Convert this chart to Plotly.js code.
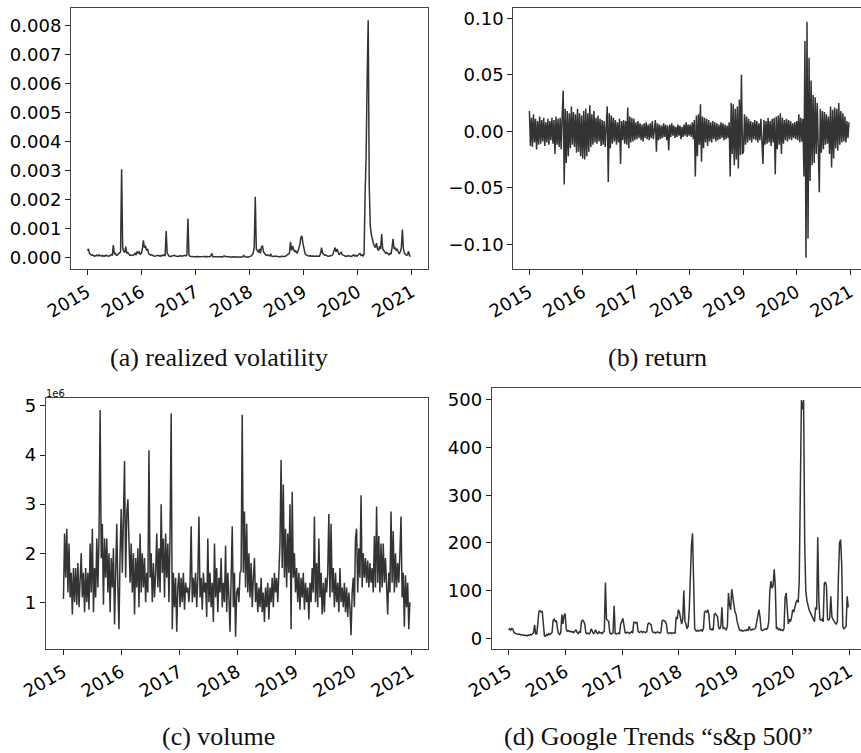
<!DOCTYPE html>
<html>
<head>
<meta charset="utf-8">
<script src="https://cdn.plot.ly/plotly-3.0.1.min.js"></script>
<style>
  html, body { margin: 0; padding: 0; background: #ffffff; }
  #chart { width: 861px; height: 753px; }
</style>
</head>
<body>
<div id="chart"></div>
<script>
// Weekly observations, 2015-01-02 to 2020-12-25 (313 weeks).
const START_DATE = Date.UTC(2015, 0, 2);
const N_WEEKS = 313;
const weekDates = Array.from({ length: N_WEEKS }, (_, i) =>
  new Date(START_DATE + i * 7 * 864e5).toISOString().slice(0, 10));

// (a) realized volatility, in units of 1e-4
const rv2015 = [2.5,3.0,1.5,1.2,0.8,1.0,0.6,0.5,0.7,0.9,0.6,1.0,0.7,
                0.6,0.8,0.5,0.7,0.5,0.9,0.6,0.5,0.6,0.8,1.0,0.9,4.4,
                1.2,1.5,0.8,0.9,1.3,1.8,2.0,30.5,3.5,2.2,1.8,3.8,1.5,
                1.8,1.0,0.8,0.9,0.7,0.8,1.1,1.5,0.9,2.2,1.6,2.0,1.2];
const rv2016 = [1.5,3.0,6.0,3.5,4.2,2.5,3.0,1.5,1.2,0.9,1.0,0.7,0.6,
                0.5,0.6,0.5,0.8,0.6,0.7,0.5,0.9,0.7,1.0,0.8,9.2,1.5,
                0.8,0.5,0.4,0.5,0.4,0.6,0.8,0.6,0.5,0.4,0.6,0.5,0.7,
                0.5,0.6,0.7,0.8,0.6,1.0,13.5,0.8,0.5,0.4,0.3,0.4,0.3];
const rv2017 = [0.3,0.4,0.3,0.4,0.3,0.3,0.2,0.3,0.4,0.5,0.3,0.4,0.3,
                0.3,0.4,0.5,1.5,0.4,0.3,0.3,0.4,0.3,0.5,0.4,0.3,0.3,
                0.2,0.3,0.6,0.4,0.3,0.2,0.3,0.3,0.2,0.2,0.3,0.2,0.2,
                0.2,0.3,0.2,0.2,0.3,0.2,0.2,0.4,0.8,0.3,0.2,0.3,0.2,0.3];
const rv2018 = [0.4,0.6,1.0,1.5,4.0,21.0,3.0,2.5,1.8,3.0,1.5,3.8,4.0,
                2.0,1.2,1.0,0.8,1.0,0.7,0.6,1.3,0.5,0.4,0.5,0.4,0.6,
                0.4,0.3,0.4,0.3,0.5,0.4,0.3,0.4,0.5,0.8,1.2,1.5,1.5,
                5.5,2.5,4.0,3.0,2.0,2.5,1.5,2.0,3.0,4.5,7.0,7.5,5.0];
const rv2019 = [3.0,1.5,1.0,0.8,0.6,0.5,0.7,0.5,0.6,0.5,0.4,0.5,0.6,
                0.5,0.4,0.5,1.5,3.5,1.5,1.0,0.8,1.0,0.6,0.5,0.5,0.6,
                0.5,0.8,1.2,2.5,3.5,2.0,3.0,2.0,1.0,1.5,2.0,1.0,0.8,
                0.6,0.5,0.6,0.5,0.7,0.5,0.4,0.5,0.8,1.0,0.6,0.8,0.5];
const rv2020 = [0.8,1.0,1.5,0.8,1.0,0.6,1.2,22.0,35.0,62.0,82.0,25.0,11.0,
                8.0,6.0,5.0,4.0,3.5,5.0,3.0,2.5,4.0,3.0,8.2,3.0,2.5,
                2.0,1.5,1.8,1.2,1.0,1.5,1.2,3.5,6.5,3.0,3.5,2.5,3.0,
                2.0,1.5,2.0,3.5,9.7,3.0,1.5,1.0,0.8,1.0,2.2,0.6,0.5];
const RV_UNIT = 1e-4;

// (b) return
const ret2015 = [0.018,-0.013,0.012,-0.014,0.015,-0.010,0.011,-0.016,0.009,-0.012,0.013,-0.011,0.010,
                 -0.009,0.012,-0.013,0.008,-0.010,0.011,-0.012,0.009,-0.008,0.012,-0.011,0.010,-0.020,
                 0.013,-0.012,0.011,-0.014,0.012,-0.016,0.014,0.036,-0.047,0.020,-0.028,0.018,-0.022,
                 0.016,-0.015,0.022,-0.012,0.017,-0.014,0.015,-0.019,0.020,-0.018,0.016,-0.022,0.014];
const ret2016 = [-0.024,0.018,-0.025,0.020,-0.022,0.016,-0.018,0.023,-0.014,0.015,-0.012,0.018,-0.010,
                 0.012,-0.011,0.014,-0.009,0.011,-0.013,0.010,-0.012,0.009,-0.014,0.013,0.022,-0.045,
                 0.016,-0.015,0.014,-0.011,0.012,-0.009,0.010,-0.012,0.008,-0.010,0.011,-0.029,0.009,
                 -0.008,0.010,-0.011,0.009,-0.012,0.021,-0.015,0.013,-0.010,0.012,-0.009,0.011,-0.008];
const ret2017 = [0.008,-0.007,0.009,-0.006,0.007,-0.008,0.006,-0.009,0.007,-0.006,0.008,-0.007,0.006,
                 -0.008,0.007,-0.006,0.009,-0.007,0.006,0.010,-0.018,0.007,-0.008,0.006,-0.007,0.005,
                 -0.006,0.007,-0.005,0.006,-0.008,0.005,-0.017,0.006,-0.005,0.007,-0.004,0.005,-0.006,
                 0.004,-0.005,0.006,-0.004,0.005,-0.007,0.004,-0.005,0.006,-0.004,0.008,-0.005,0.006,-0.004];
const ret2018 = [0.006,-0.005,0.008,-0.007,0.010,-0.040,0.014,-0.022,0.015,-0.012,0.024,-0.027,0.013,
                 -0.015,0.012,-0.010,0.011,-0.013,0.010,-0.009,0.008,-0.010,0.009,-0.007,0.008,-0.009,
                 0.007,-0.008,0.006,-0.007,0.008,-0.006,0.007,-0.008,0.006,-0.007,0.005,-0.006,0.008,
                 -0.040,0.025,-0.020,0.024,-0.030,0.020,-0.025,0.022,-0.033,0.028,-0.021,0.050,-0.020];
const ret2019 = [-0.018,0.015,-0.012,0.013,-0.010,0.011,-0.008,0.009,-0.010,0.008,-0.007,0.010,-0.008,
                 0.009,-0.010,0.007,-0.008,0.011,-0.012,-0.029,0.010,-0.012,0.009,-0.011,0.012,-0.010,
                 0.009,-0.013,0.011,-0.010,0.012,-0.038,0.013,-0.016,0.014,-0.012,0.016,-0.020,0.012,
                 -0.011,0.010,-0.008,0.011,-0.009,0.010,-0.007,0.009,-0.008,0.007,-0.006,0.008,-0.007];
const ret2020 = [0.009,-0.008,0.015,-0.010,0.012,-0.009,0.011,-0.040,0.080,-0.112,0.097,-0.095,0.065,
                 -0.044,0.045,-0.030,0.032,-0.028,0.030,-0.020,0.025,-0.018,-0.054,0.020,-0.019,0.018,
                 -0.016,0.017,-0.012,0.015,-0.011,0.013,-0.020,0.022,-0.032,0.019,-0.024,0.021,-0.015,
                 0.020,-0.017,0.025,-0.012,0.018,-0.010,0.016,-0.009,0.013,-0.010,0.009,-0.006,0.008];

// (c) volume, in millions (axis offset label "1e6")
const vol2015 = [1.07,2.4,1.5,2.5,1.2,2.2,1.1,1.6,0.75,1.7,1.0,1.7,0.95,
                 1.8,0.9,1.5,2.0,1.1,1.6,0.8,1.7,1.0,1.6,0.85,2.2,1.2,
                 2.5,0.8,1.7,1.1,2.3,1.3,2.35,4.92,1.9,2.6,0.95,2.3,1.5,
                 2.3,1.2,2.0,0.8,1.9,1.3,2.1,0.55,1.6,2.6,1.3,0.45,2.0];
const vol2016 = [2.9,1.6,3.25,3.88,1.5,2.8,3.1,1.9,1.4,2.2,1.2,2.0,0.75,
                 1.9,1.3,2.1,0.9,2.4,1.2,2.0,1.3,1.9,1.0,1.6,1.2,4.1,
                 1.5,2.0,1.0,1.8,1.1,1.6,2.4,1.3,2.1,1.2,3.0,1.6,2.3,
                 1.1,2.4,1.5,2.2,1.0,2.4,4.85,0.45,1.6,0.9,1.5,0.4,1.3];
const vol2017 = [1.6,0.9,1.5,1.0,1.6,0.85,1.4,1.2,1.3,1.0,1.4,2.55,1.0,
                 1.5,1.1,1.6,0.9,1.5,2.75,1.1,1.5,0.85,1.6,1.2,1.4,0.7,
                 2.3,1.0,1.6,0.9,1.4,0.6,2.2,1.1,1.7,0.8,1.5,1.2,1.9,
                 0.9,1.4,1.0,2.15,0.8,1.6,1.1,0.4,1.5,2.55,0.9,1.6,0.3,1.2];
const vol2018 = [1.3,1.0,1.6,1.65,4.82,1.6,2.85,1.3,2.6,1.2,2.0,1.1,1.8,
                 0.9,1.5,1.9,1.0,1.4,0.8,1.3,0.9,1.5,0.8,1.2,0.6,1.3,
                 0.9,1.4,0.65,1.3,1.0,1.5,0.9,1.6,1.2,1.5,1.0,1.7,2.2,
                 3.9,1.7,3.4,1.5,2.5,1.3,2.4,1.6,3.0,0.45,3.25,1.5,2.0];
const vol2019 = [1.2,1.7,1.0,1.6,0.85,1.5,1.1,1.6,0.85,1.4,1.0,1.3,0.65,
                 1.4,1.0,1.7,1.2,2.75,1.0,1.8,0.9,2.3,1.1,1.6,0.75,1.4,
                 0.8,1.5,1.2,1.6,2.8,1.1,2.6,1.2,1.7,0.9,1.6,1.0,1.4,
                 0.8,1.7,1.0,1.3,0.9,1.4,0.8,1.3,0.7,1.2,0.9,0.33,1.2];
const vol2020 = [1.5,0.9,2.3,2.5,1.2,2.1,1.5,3.18,1.3,2.0,1.5,1.9,1.4,
                 1.85,1.3,1.8,1.4,1.7,1.2,2.35,1.3,2.95,1.4,2.35,1.2,2.2,
                 1.3,2.2,1.4,1.9,1.1,0.75,1.6,1.2,2.85,1.4,2.45,1.2,2.0,
                 1.3,1.8,1.4,2.0,2.75,1.1,1.6,0.5,1.55,0.9,1.4,0.45,1.0];

// (d) Google Trends "s&p 500"
const gt2015 = [18,20,17,21,19,12,11,10,9,8,9,7,8,
                7,6,7,6,5,7,6,8,7,9,12,28,8,
                10,45,57,58,55,56,30,5,4,8,6,10,8,
                10,12,38,40,35,37,20,10,8,12,50,30,48];
const gt2016 = [52,20,15,16,14,15,13,14,12,15,18,12,10,
                14,12,35,38,36,30,12,10,11,9,12,20,15,
                10,12,18,12,10,14,11,12,10,13,15,117,40,
                38,35,12,9,10,12,68,10,9,10,11,10,30];
const gt2017 = [35,42,28,12,11,13,12,10,12,14,11,33,34,
                32,33,15,12,13,15,12,14,13,12,14,30,32,
                30,28,15,12,13,11,12,14,12,11,13,36,38,
                37,35,30,12,10,11,12,10,11,12,10,45,40,60];
const gt2018 = [55,45,30,40,100,35,30,20,25,60,130,195,220,
                140,20,16,15,17,15,16,18,15,20,55,57,55,
                60,50,20,18,20,17,50,52,48,45,22,20,25,
                65,20,22,20,18,25,95,70,60,103,80,70,55];
const gt2019 = [50,35,25,18,16,17,15,16,17,16,18,17,25,
                18,17,19,18,20,22,35,50,60,45,18,16,17,
                18,20,19,22,35,100,120,105,110,145,110,20,22,
                18,20,17,18,16,20,85,95,70,30,40,35,45];
const gt2020 = [60,55,70,75,80,75,120,270,500,480,500,200,100,
                80,65,60,55,50,45,40,35,65,60,212,80,40,
                38,40,35,115,118,110,40,38,42,88,45,40,35,
                32,30,35,130,200,207,155,25,20,22,25,88,65];

const realizedVol = [].concat(rv2015, rv2016, rv2017, rv2018, rv2019, rv2020).map(v => v * RV_UNIT);
const returns = [].concat(ret2015, ret2016, ret2017, ret2018, ret2019, ret2020);
const volume = [].concat(vol2015, vol2016, vol2017, vol2018, vol2019, vol2020);
const trends = [].concat(gt2015, gt2016, gt2017, gt2018, gt2019, gt2020);

const captions = ['(a) realized volatility', '(b) return', '(c) volume', '(d) Google Trends \u201cs&p 500\u201d'];

const LINE = { color: '#333333', width: 1.5 };
const TICK_FONT = { family: 'DejaVu Sans, sans-serif', size: 18, color: '#000000' };

function series(y, xa, ya) {
  return { x: weekDates, y: y, type: 'scatter', mode: 'lines', line: LINE,
           xaxis: xa, yaxis: ya, hoverinfo: 'skip', showlegend: false };
}

function xAxis(domain, range, anchor) {
  return { domain: domain, range: range, anchor: anchor, type: 'date',
           tick0: '2015-01-01', dtick: 'M12', tickformat: '%Y', tickangle: -30,
           ticks: 'outside', ticklen: 5, tickwidth: 1, tickcolor: '#222222',
           tickfont: TICK_FONT, showgrid: false, zeroline: false,
           showline: true, linecolor: '#444444', linewidth: 1, mirror: true };
}

function yAxis(domain, range, anchor, dtick, fmt, mirror) {
  return { domain: domain, range: range, anchor: anchor, tick0: 0, dtick: dtick,
           tickformat: fmt, ticks: 'outside', ticklen: 5, tickwidth: 1, tickcolor: '#222222',
           tickfont: TICK_FONT, showgrid: false, zeroline: false,
           showline: true, linecolor: '#444444', linewidth: 1, mirror: mirror };
}

const W = 861, H = 753;
const px = v => v / W;
const py = v => 1 - v / H;

const data = [
  series(realizedVol, 'x', 'y'),
  series(returns, 'x2', 'y2'),
  series(volume, 'x3', 'y3'),
  series(trends, 'x4', 'y4')
];

const captionStyle = { family: 'Liberation Serif, Times New Roman, serif', size: 26, color: '#111111' };
function caption(text, cx, cy) {
  return { text: text, xref: 'paper', yref: 'paper', x: px(cx), y: py(cy),
           xanchor: 'center', yanchor: 'middle', showarrow: false, borderpad: 0,
           font: captionStyle };
}

const layout = {
  width: W, height: H,
  margin: { l: 0, r: 0, t: 0, b: 0 },
  paper_bgcolor: '#ffffff', plot_bgcolor: '#ffffff',
  xaxis:  xAxis([px(71), px(428)], ['2014-09-13', '2021-04-21'], 'y'),
  yaxis:  yAxis([py(269), py(8)], [-0.00039, 0.00862], 'x', 0.001, '.3f', true),
  xaxis2: xAxis([px(513.3), 1], ['2014-09-14', '2021-03-17'], 'y2'),
  yaxis2: yAxis([py(269), py(8)], [-0.1219, 0.1091], 'x2', 0.05, '.2f', false),
  xaxis3: xAxis([px(45.7), px(428.3)], ['2014-09-12', '2021-04-20'], 'y3'),
  yaxis3: yAxis([py(648.7), py(397.7)], [0.0546, 5.169], 'x3', 1, 'd', true),
  xaxis4: xAxis([px(491.7), 1], ['2014-09-16', '2021-03-17'], 'y4'),
  yaxis4: yAxis([py(648.7), py(388.3)], [-21.8, 524.5], 'x4', 100, 'd', false),
  annotations: [
    { text: '1e6', xref: 'paper', yref: 'paper', x: px(55), y: py(393.5),
      xanchor: 'center', yanchor: 'middle', showarrow: false, borderpad: 0,
      font: { family: 'DejaVu Sans, sans-serif', size: 10, color: '#111111' } },
    caption(captions[0], 219, 357),
    caption(captions[1], 657, 357),
    caption(captions[2], 218.5, 736),
    caption(captions[3], 658.5, 736)
  ]
};

Plotly.newPlot('chart', data, layout, { staticPlot: true, displayModeBar: false });
</script>
</body>
</html>
